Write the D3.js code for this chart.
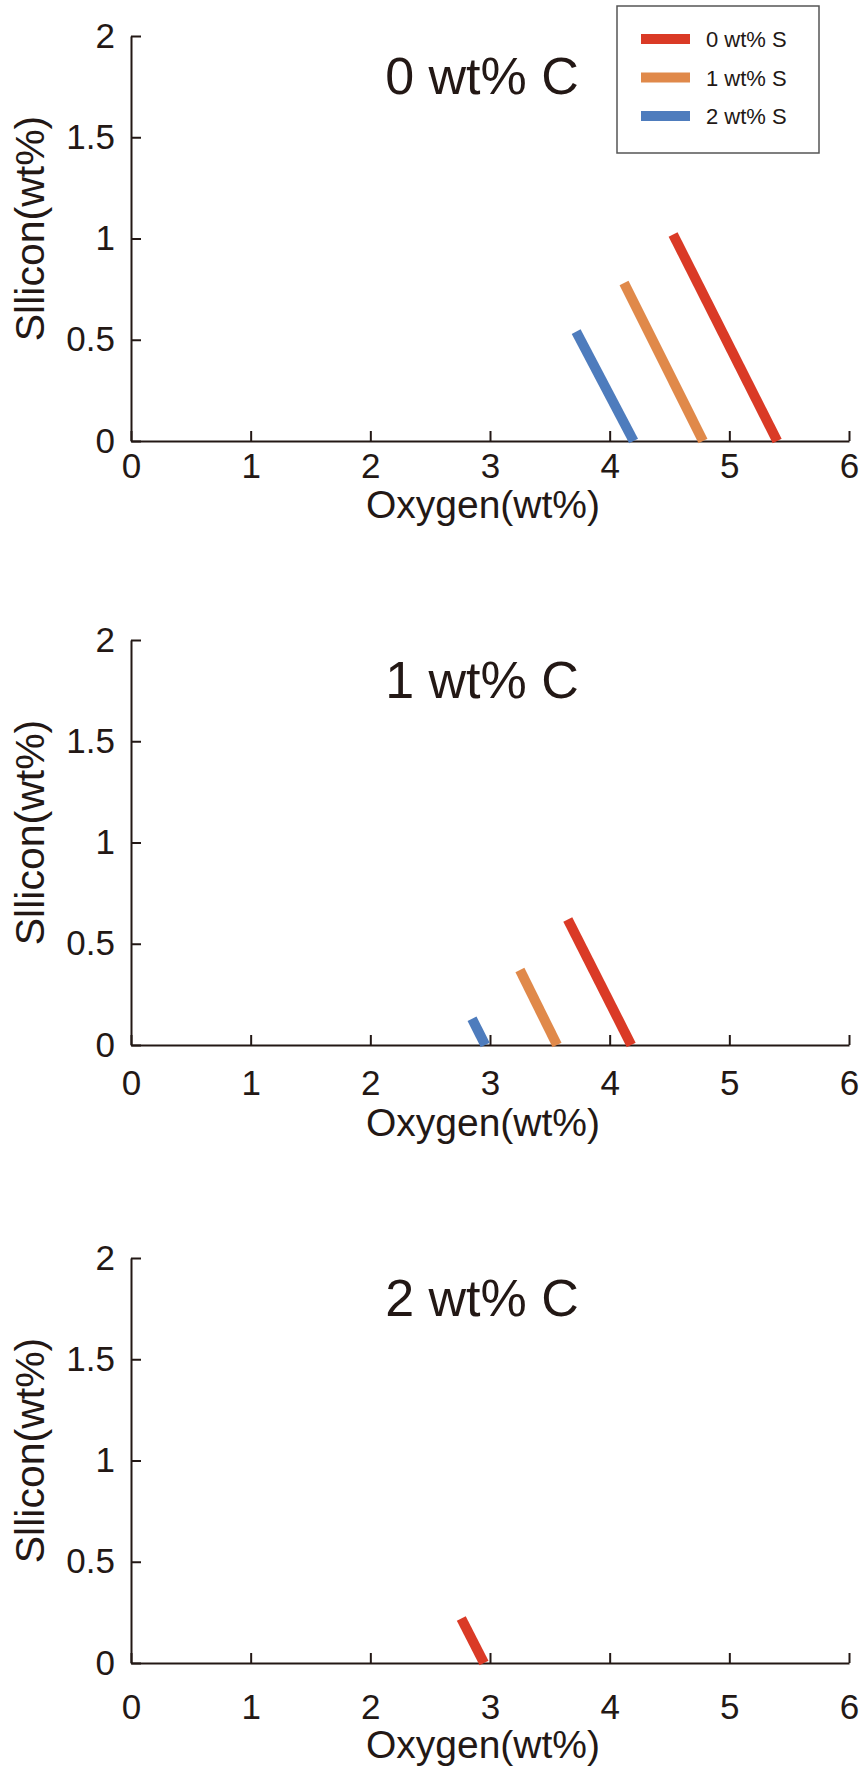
<!DOCTYPE html>
<html>
<head>
<meta charset="utf-8">
<script src="https://cdn.jsdelivr.net/npm/d3@7"></script>
<style>
    body { margin: 0; background: #fff; }
    svg text { font-family: "Liberation Sans", Arial, sans-serif; fill: #231815; }
</style>
</head>
<body>
<div id="chart"></div>
<script>
// Data
var carbon_levels   =   [ '0 wt% C', '1 wt% C', '2 wt% C' ];
var sulfur_levels   =   [ '0 wt% S', '1 wt% S', '2 wt% S' ];
var x_ticks         =   [ 0, 1, 2, 3, 4, 5, 6 ];
var y_ticks         =   [ 0, 0.5, 1, 1.5, 2 ];

// [oxygen, silicon] end points for each sulfur level
var lines_c0        =   [
    [ [ 4.53, 1.02 ], [ 5.40, 0 ] ],
    [ [ 4.12, 0.78 ], [ 4.78, 0 ] ],
    [ [ 3.72, 0.54 ], [ 4.20, 0 ] ]
];
var lines_c1        =   [
    [ [ 3.65, 0.62 ], [ 4.18, 0 ] ],
    [ [ 3.25, 0.37 ], [ 3.56, 0 ] ],
    [ [ 2.85, 0.13 ], [ 2.96, 0 ] ]
];
var lines_c2        =   [
    [ [ 2.76, 0.22 ], [ 2.95, 0 ] ]
];

var chart_width     =   863;
var chart_height    =   1768;
var colors          =   [ '#DA3A26', '#E0894A', '#4E7CBD' ];
var ink             =   '#231815';

var panels          =   [
    { title: carbon_levels[0], lines: lines_c0, top: 36,   pad: 12, label_dy: 77 },
    { title: carbon_levels[1], lines: lines_c1, top: 640,  pad: 25, label_dy: 91 },
    { title: carbon_levels[2], lines: lines_c2, top: 1258, pad: 31, label_dy: 95 }
];
var plot_left       =   131;
var plot_right      =   849;
var plot_h          =   405;

// Create SVG Element
var svg             =   d3.select( '#chart' )
    .append( 'svg' )
    .attr( 'width', chart_width )
    .attr( 'height', chart_height );

var x_scale         =   d3.scaleLinear()
    .domain([ 0, 6 ])
    .range([ plot_left, plot_right ]);

panels.forEach(function( p ){
    var y_scale     =   d3.scaleLinear()
        .domain([ 0, 2 ])
        .range([ p.top + plot_h, p.top ]);

    var g = svg.append( 'g' );

    // Axes
    var x_axis = d3.axisBottom( x_scale )
        .tickValues( x_ticks )
        .tickSizeInner( -10 )
        .tickSizeOuter( 0 )
        .tickPadding( p.pad )
        .tickFormat( d3.format( '~g' ) );

    var y_axis = d3.axisLeft( y_scale )
        .tickValues( y_ticks )
        .tickSizeInner( -10 )
        .tickSizeOuter( 0 )
        .tickPadding( 16 )
        .tickFormat( d3.format( '~g' ) );

    g.append( 'g' )
        .attr( 'transform', 'translate(0,' + ( p.top + plot_h ) + ')' )
        .call( x_axis );

    g.append( 'g' )
        .attr( 'transform', 'translate(' + plot_left + ',0)' )
        .call( y_axis );

    g.selectAll( '.domain, .tick line' )
        .attr( 'stroke', ink )
        .attr( 'stroke-width', 2 );
    g.selectAll( '.tick text' )
        .attr( 'fill', ink )
        .style( 'font-size', '35px' );

    // Title
    g.append( 'text' )
        .attr( 'x', 482 )
        .attr( 'y', p.top + 58 )
        .attr( 'text-anchor', 'middle' )
        .style( 'font-size', '52px' )
        .text( p.title );

    // Axis labels
    g.append( 'text' )
        .attr( 'x', 483 )
        .attr( 'y', p.top + plot_h + p.label_dy )
        .attr( 'text-anchor', 'middle' )
        .style( 'font-size', '39px' )
        .text( 'Oxygen(wt%)' );

    g.append( 'text' )
        .attr( 'transform', 'translate(44,' + ( p.top + plot_h / 2 - 10 ) + ') rotate(-90)' )
        .attr( 'text-anchor', 'middle' )
        .style( 'font-size', '41px' )
        .text( 'Sllicon(wt%)' );

    // Lines
    g.append( 'g' )
        .selectAll( 'line' )
        .data( p.lines )
        .enter()
        .append( 'line' )
        .attr( 'x1', function( d ){ return x_scale( d[0][0] ); })
        .attr( 'y1', function( d ){ return y_scale( d[0][1] ); })
        .attr( 'x2', function( d ){ return x_scale( d[1][0] ); })
        .attr( 'y2', function( d ){ return y_scale( d[1][1] ); })
        .attr( 'stroke', function( d, i ){ return colors[i]; })
        .attr( 'stroke-width', 10 )
        .attr( 'stroke-linecap', 'butt' );
});

// Legend
var legend = svg.append( 'g' );
legend.append( 'rect' )
    .attr( 'x', 617 )
    .attr( 'y', 6 )
    .attr( 'width', 202 )
    .attr( 'height', 147 )
    .attr( 'fill', '#fff' )
    .attr( 'stroke', '#555' )
    .attr( 'stroke-width', 1.5 );

var items = legend.selectAll( 'g.item' )
    .data( sulfur_levels )
    .enter()
    .append( 'g' )
    .attr( 'class', 'item' )
    .attr( 'transform', function( d, i ){ return 'translate(0,' + ( 39 + i * 38.5 ) + ')'; });

items.append( 'line' )
    .attr( 'x1', 641 )
    .attr( 'x2', 690 )
    .attr( 'stroke', function( d, i ){ return colors[i]; })
    .attr( 'stroke-width', 10 );

items.append( 'text' )
    .attr( 'x', 706 )
    .attr( 'y', 8 )
    .style( 'font-size', '22px' )
    .text( function( d ){ return d; });
</script>
</body>
</html>
